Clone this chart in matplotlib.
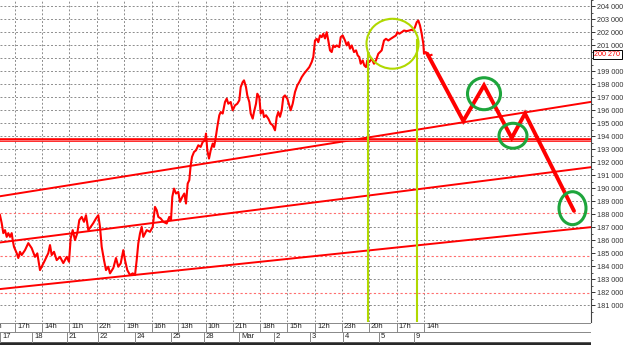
import matplotlib
matplotlib.use("Agg")
import matplotlib.pyplot as plt
from matplotlib.patches import Ellipse

plt.rcParams['font.family'] = ['Liberation Sans', 'DejaVu Sans']

# price path (x = bar position on chart, value in thousands)
px = [0, 1.7, 3.3, 5, 6.7, 8.3, 10, 11.7, 12.7, 14, 16.7, 18.3, 20, 21.7, 25, 28.3, 31.7, 35, 37.3,
      40, 41.7, 45, 48.3, 50, 51.7, 54, 56.7, 60, 63.3, 66.7, 69, 70.7, 72.7, 75, 77.3, 79.3, 81.7,
      84, 86, 88.3, 90.7, 93.3, 96, 98.3, 100, 101.7, 104, 106, 108.3, 110, 113.3, 116, 118.3,
      120.7, 123.3, 125, 127.3, 130, 132.7, 135, 136.7, 138.3, 140, 141.7, 143.3, 146.7, 150,
      152.7, 155, 156.7, 158.3, 160.7, 163.3, 166.7, 169.3, 171, 172.3, 174, 176, 178.3, 180,
      182.3, 184.3, 186, 187.7, 189.3, 190.7, 192, 194, 196, 198.3, 200.7, 202.7, 205, 206,
      207.3, 209, 210.7, 212.7, 214, 215.3, 217.3, 219.3, 220.7, 222.7, 225, 226.7, 228.3,
      230.7, 232.7, 235, 237.3, 239.3, 240.7, 242.7, 244, 246, 247.3, 249.3, 250.7, 252.7, 254,
      256, 257.3, 259.3, 260.7, 262.7, 264, 266, 268.3, 270.7, 272.7, 275, 276.7, 278.3, 280,
      281.7, 283.3, 285, 287.3, 289.3, 290.7, 292.7, 295, 297.3, 299.3, 301.7, 304, 306.7,
      309.3, 311.7, 313.3, 315, 316.7, 318.3, 320, 321.7, 323.3, 325, 326.7, 328.3, 330, 331.7,
      333.3, 335, 336.7, 339.3, 340.7, 342.7, 345, 346.7, 348.3, 350, 351.7, 354, 356, 357.7,
      359.3, 360.7, 362.7, 364.3, 366, 367.3, 369.3, 371.7, 374, 376, 378.3, 380, 381.7, 384,
      386, 388.3, 390.7, 393.3, 396, 397.3, 399.3, 401.7, 404, 406.7, 409.3, 411.7, 413.3, 415,
      416.7, 418.3, 420, 421.7, 423.3, 424, 425.7, 427.3, 428.7, 430, 431.5]
price = [187.92, 187.31, 186.54, 186.77, 186.25, 186.54, 186.25, 186.54, 186.00, 185.48, 185.00,
         184.62, 185.10, 184.85, 185.23, 185.77, 185.38, 184.71, 184.98, 183.69, 183.95, 184.46,
         185.00, 185.62, 184.85, 185.10, 184.46, 184.71, 184.23, 184.71, 184.33, 186.15, 186.77,
         186.00, 186.54, 187.54, 187.79, 187.41, 187.92, 186.77, 187.02, 187.31, 187.67, 187.92,
         187.02, 185.48, 184.46, 183.69, 183.95, 183.44, 183.85, 184.62, 183.95, 184.21, 185.23,
         184.46, 183.69, 183.31, 183.44, 183.31, 184.46, 185.75, 186.52, 187.02, 186.25, 186.77,
         186.64, 187.02, 188.56, 188.31, 187.79, 187.67, 187.41, 187.28, 187.79, 187.54, 189.33,
         189.97, 189.59, 189.71, 188.95, 189.33, 189.59, 188.82, 190.36, 190.62, 191.77, 192.41,
         192.79, 192.92, 193.31, 193.18, 193.56, 193.69, 194.21, 192.92, 192.28, 192.92, 193.44,
         193.18, 193.69, 194.72, 195.62, 195.87, 195.75, 196.64, 196.90, 196.51, 196.64, 196.00,
         196.38, 196.51, 196.77, 197.79, 198.18, 198.31, 197.79, 197.15, 196.64, 195.75, 195.36,
         195.87, 196.51, 197.28, 197.02, 195.75, 196.00, 195.48, 195.62, 195.36, 194.97, 194.85,
         194.46, 195.48, 195.87, 195.50, 196.00, 197.02, 197.15, 196.90, 196.38, 196.00, 196.51,
         197.41, 197.92, 198.18, 198.56, 198.82, 199.08, 199.33, 199.72, 200.10, 201.38, 201.51,
         201.25, 201.77, 201.64, 201.90, 201.54, 202.02, 201.38, 200.62, 200.49, 201.00, 200.87,
         201.00, 200.87, 201.64, 201.77, 201.38, 201.00, 201.25, 200.75, 201.00, 200.49, 200.62,
         200.23, 200.10, 199.59, 199.85, 199.46, 199.33, 199.85, 199.72, 199.98, 199.59, 199.85,
         200.36, 200.49, 200.62, 201.38, 201.51, 201.38, 201.51, 201.64, 201.77, 202.02, 201.90,
         202.02, 202.15, 202.10, 202.15, 202.21, 202.15, 202.41, 202.79, 202.92, 202.54, 201.90,
         201.13, 200.36, 200.49, 200.36, 200.10, 200.23, 200.27]
last_price = 200.27

# projected path
proj_x = [427.3, 463.3, 484, 511.7, 525, 574]
proj_y = [200.36, 195.18, 197.92, 193.87, 195.75, 188.25]

# channel lines (start / end values at x=0 and x=591)
channels = [(189.38, 196.65), (185.82, 191.62), (182.23, 187.00)]
support = 193.75
red_levels = [188.1, 184.8, 181.9]

hour_pos = [-12.3, 15, 42.3, 69.3, 96.7, 124, 151.7, 178.3, 205.7, 232.7, 260, 287.3, 315,
            342, 369, 396.7, 424]
hour_labels = ['20h', '17h', '14h', '11h', '22h', '19h', '16h', '13h', '10h', '21h', '18h',
               '15h', '12h', '23h', '20h', '17h', '14h']
date_pos = [0, 32.3, 66.7, 97.7, 135, 170.7, 204, 239.3, 274, 310, 343.3, 379, 414]
date_labels = ['17', '18', '21', '22', '24', '25', '28', 'Mar', '2', '3', '4', '5', '9']

XMAX = 591
YTOP, YBOT = 204.4615, 179.692

fig = plt.figure(figsize=(6.24, 3.45), dpi=100)
ax = fig.add_axes([0, 23 / 345, XMAX / 624, 322 / 345])
ax.set_xlim(0, XMAX)
ax.set_ylim(YBOT, YTOP)

grid_kw = dict(color='#8c8c8c', lw=0.7, ls=(0, (2, 2)), zorder=1)
for v in range(181, 205):
    if any(abs(v - r) < 0.5 for r in red_levels):
        continue
    ax.axhline(v, **grid_kw)
for x in hour_pos[1:]:
    ax.axvline(x, **grid_kw)
for r in red_levels:
    ax.axhline(r, color='#ff6e6e', lw=0.8, ls=(0, (2, 2)), zorder=1)

for y0, y1 in channels:
    ax.plot([0, XMAX], [y0, y1], color='#ff0000', lw=1.4, zorder=3)
ax.axhline(support, color='#ff0000', lw=2.6, zorder=3)
ax.axhline(support, color='#ff8c8c', lw=0.6, zorder=3)

ax.plot(px, price, color='#ff0000', lw=1.5, zorder=4)
ax.plot(proj_x, proj_y, color='#ff0000', lw=2.8, solid_capstyle='round',
        solid_joinstyle='miter', zorder=4)

# annotations
lime = '#b0d800'
ax.add_patch(Ellipse((392.5, 201.13), 52, 50 / 13, fill=False, ec=lime, lw=1.5, zorder=5))
ax.plot([368.3, 368.3], [200.4, YBOT], color=lime, lw=1.5, zorder=5)
ax.plot([416.7, 416.7], [201.4, YBOT], color=lime, lw=1.5, zorder=5)
green = '#1ea53c'
for cx, cy, w, h in [(484, 197.28, 33, 32), (513, 194.04, 28, 25), (572.5, 188.46, 27, 33)]:
    ax.add_patch(Ellipse((cx, cy), w, h / 13, fill=False, ec=green, lw=2.2, zorder=5))

ax.yaxis.tick_right()
ax.set_yticks(range(181, 205))
ax.set_yticks([v + 0.5 for v in range(180, 205)], minor=True)
# the 200 000 label is hidden behind the last-price box in the original
ax.set_yticklabels(["" if v == 200 else f"{v} 000" for v in range(181, 205)])
ax.tick_params(axis='y', which='major', length=3, width=0.7, pad=1.5, labelsize=5.2,
               colors='#333333')
ax.tick_params(axis='y', which='minor', length=1.5, width=0.6, colors='#333333')
ax.set_xticks([])
for s in ['left', 'top', 'bottom']:
    ax.spines[s].set_visible(False)
ax.spines['right'].set_color('#444444')
ax.spines['right'].set_linewidth(0.8)

lp = f"{last_price * 1000:,.0f}".replace(",", " ")
ax.annotate(lp, xy=(1, last_price), xycoords=('axes fraction', 'data'),
            xytext=(2.5, 0), textcoords='offset points', va='center', ha='left',
            fontsize=5.2, color='#ff0000', annotation_clip=False, zorder=10,
            bbox=dict(boxstyle='square,pad=0.15', fc='white', ec='black', lw=0.7))

# time rows below the chart
bx = fig.add_axes([0, 0, XMAX / 624, 23 / 345])
bx.set_xlim(0, XMAX)
bx.set_ylim(23, 0)
bx.axis('off')
row_c = '#888888'
bx.plot([0, XMAX], [0.5, 0.5], color=row_c, lw=0.7)
bx.plot([0, XMAX], [9.5, 9.5], color=row_c, lw=0.7)
bx.plot([0, XMAX], [19.5, 19.5], color='#555555', lw=0.7)
bx.plot([0, XMAX], [21.5, 21.5], color='#222222', lw=1.4)
for x, lab in zip(hour_pos, hour_labels):
    bx.plot([x, x], [0.5, 9.5], color=row_c, lw=0.7)
    bx.text(x + 2, 5, lab, fontsize=5.5, va='center', ha='left', color='#222222', clip_on=True)
for x, lab in zip(date_pos, date_labels):
    bx.plot([x, x], [9.5, 19.5], color=row_c, lw=0.7)
    bx.text(x + 2, 14.5, lab, fontsize=5.5, va='center', ha='left', color='#222222', clip_on=True)

fig.savefig('out.png', dpi=100)
